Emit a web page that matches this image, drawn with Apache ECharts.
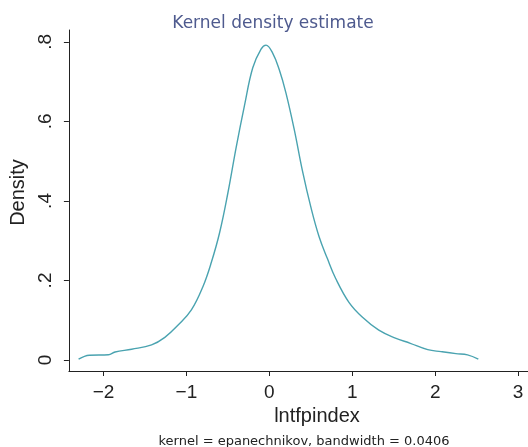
<!DOCTYPE html>
<html>
<head>
<meta charset="utf-8">
<script src="https://cdn.jsdelivr.net/npm/echarts@6/dist/echarts.min.js"></script>
<style>html,body{margin:0;padding:0;background:#fff}#c{width:528px;height:447px}</style>
</head>
<body>
<div id="c"></div>
<script>
var xValues = [-2.30, -2.17, -1.94, -1.86, -1.66, -1.42, -1.26, -1.10, -0.94, -0.80, -0.70, -0.60, -0.50, -0.40, -0.30, -0.20, -0.10, -0.04, 0.04, 0.12, 0.20, 0.30, 0.40, 0.50, 0.60, 0.70, 0.80, 0.96, 1.12, 1.32, 1.52, 1.70, 1.91, 2.07, 2.25, 2.39, 2.52];
var densityValues = [0.002, 0.012, 0.013, 0.020, 0.027, 0.038, 0.057, 0.088, 0.126, 0.185, 0.245, 0.320, 0.420, 0.535, 0.640, 0.735, 0.782, 0.792, 0.772, 0.730, 0.672, 0.580, 0.475, 0.385, 0.310, 0.255, 0.205, 0.145, 0.108, 0.075, 0.055, 0.042, 0.026, 0.021, 0.016, 0.013, 0.002];
var xTicks = [-2, -1, 0, 1, 2, 3];
var yTicks = [0, 0.2, 0.4, 0.6, 0.8];
var yTickLabels = ['0', '.2', '.4', '.6', '.8'];
var titleText = 'Kernel density estimate';
var noteText = 'kernel = epanechnikov, bandwidth = 0.0406';
var xTitle = 'lntfpindex';
var yTitle = 'Density';

var seriesData = xValues.map(function (x, i) { return [x, densityValues[i]]; });
var chart = echarts.init(document.getElementById('c'), null, {renderer: 'canvas'});
chart.setOption({
  backgroundColor: '#ffffff',
  animation: false,
  title: [
    {text: titleText, left: 268, textAlign: 'center', top: 10,
     textStyle: {fontFamily: 'DejaVu Sans', fontSize: 17, fontWeight: 'normal', color: '#4e5a8e'}},
    {text: noteText, left: 299, textAlign: 'center', top: 430,
     textStyle: {fontFamily: 'DejaVu Sans', fontSize: 13, fontWeight: 'normal', color: '#222'}}
  ],
  grid: {left: 63, right: 0, top: 30, bottom: 76, containLabel: false},
  xAxis: {
    type: 'value', min: -2.417, max: 3.119,
    name: xTitle, nameLocation: 'middle', nameGap: 34,
    nameTextStyle: {fontFamily: 'Liberation Sans', fontSize: 20, color: '#222', padding: [0, 0, 0, 37]},
    axisLine: {show: true, onZero: false, lineStyle: {color: '#222', width: 1}},
    axisTick: {show: true, length: 5, customValues: xTicks, lineStyle: {color: '#222'}},
    axisLabel: {customValues: xTicks, margin: 12, fontFamily: 'Liberation Sans', fontSize: 19, color: '#222',
      formatter: function (v) { return v < 0 ? '\u2212' + Math.abs(v) : String(v); }},
    splitLine: {show: false}
  },
  yAxis: {
    type: 'value', min: -0.0277, max: 0.830,
    name: yTitle, nameLocation: 'middle', nameGap: 40, nameRotate: 90,
    nameTextStyle: {fontFamily: 'Liberation Sans', fontSize: 20, color: '#222', padding: [0, 0, 0, 16]},
    axisLine: {show: true, onZero: false, lineStyle: {color: '#222', width: 1}},
    axisTick: {show: true, length: 5, customValues: yTicks, lineStyle: {color: '#222'}},
    axisLabel: {customValues: yTicks, rotate: 90, margin: 14, fontFamily: 'Liberation Sans', fontSize: 19, color: '#222',
      formatter: function (v) { var i = yTicks.findIndex(function (t) { return Math.abs(t - v) < 1e-9; }); return i >= 0 ? yTickLabels[i] : ''; }},
    splitLine: {show: false}
  },
  series: [{
    type: 'line', data: seriesData, smooth: 0.4, symbol: 'none',
    lineStyle: {color: '#4aa3b0', width: 1.4}
  }]
});
</script>
</body>
</html>
